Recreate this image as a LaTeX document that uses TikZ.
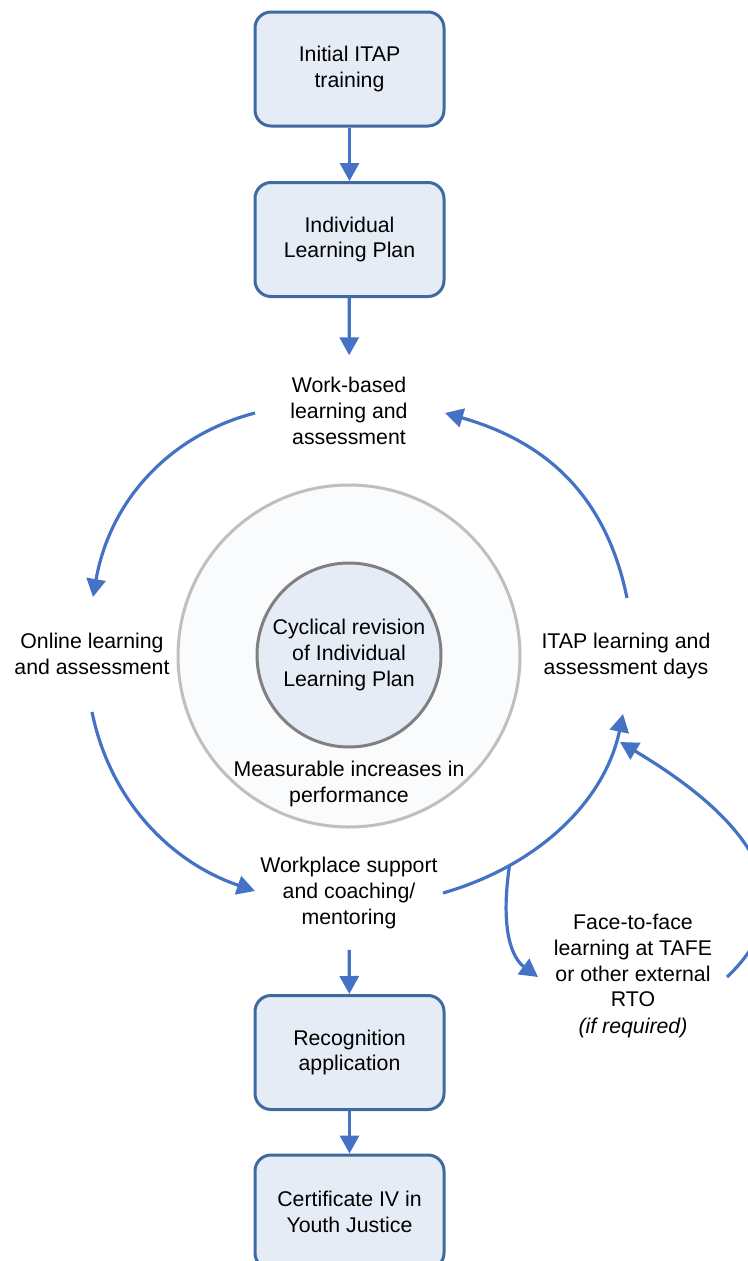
\documentclass[tikz,border=0pt]{standalone}
\usepackage{fontspec}
\setmainfont{Liberation Sans}
\usetikzlibrary{arrows.meta}
\definecolor{boxline}{RGB}{62,106,160}
\definecolor{boxfill}{RGB}{230,236,246}
\definecolor{arrowblue}{RGB}{68,114,196}
\definecolor{outerline}{RGB}{191,191,191}
\definecolor{outerfill}{RGB}{250,251,253}
\definecolor{innerline}{RGB}{128,128,128}
\newcommand\dfs{\fontsize{21.3}{25.7}\selectfont}
\begin{document}
\begin{tikzpicture}[x=1pt,y=-1pt,
  stepbox/.style={draw=boxline, line width=3pt, fill=boxfill, rounded corners=16pt,
    minimum width=189pt, minimum height=114pt, align=center, font=\dfs, inner sep=0pt},
  lbl/.style={align=center, font=\dfs, inner sep=0pt},
  flow/.style={draw=arrowblue, line width=3.2pt, -{Triangle[length=18pt,width=19pt]}}]
\useasboundingbox (0,0) rectangle (747,1261);

% boxes
\node[stepbox] (b1) at (349.5,69) {Initial ITAP\\training};
\node[stepbox] (b2) at (349.5,239.5) {Individual\\Learning Plan};
\node[stepbox] (b3) at (349.5,1052.5) {Recognition\\application};
\node[stepbox] (b4) at (349.5,1212) {Certificate IV in\\Youth Justice};

% circles
\node[circle, draw=outerline, fill=outerfill, line width=3pt, minimum size=342pt, inner sep=0pt] (outer) at (349,656) {};
\node[circle, draw=innerline, fill=boxfill, line width=3pt, minimum size=184pt, inner sep=0pt,
  align=center, font=\dfs] (inner) at (349,655) {Cyclical revision\\of Individual\\Learning Plan};
\node[lbl] (meas) at (349,784) {Measurable increases in\\performance};

% cycle labels
\node[lbl, inner ysep=22pt] (wb) at (349,411) {Work-based\\learning and\\assessment};
\node[lbl] (ol) at (92,654) {Online learning\\and assessment};
\node[lbl] (it) at (626,656) {ITAP learning and\\assessment days};
\node[lbl, inner ysep=21pt] (wp) at (349,893) {Workplace support\\and coaching/\\mentoring};
\node[lbl] (ff) at (633,976) {Face-to-face\\learning at TAFE\\or other external\\RTO\\[1pt]\textit{(if required)}};

% straight connectors
\draw[flow] (b1) -- (b2);
\draw[flow] (b2) -- (wb);
\draw[flow] (wp) -- (b3);
\draw[flow] (b3) -- (b4);

% curve end points
\coordinate (wbL) at (255,413);
\coordinate (olT) at (93,597);
\coordinate (olB) at (92,712);
\coordinate (wpL) at (255,891);
\coordinate (wpR) at (443,893);
\coordinate (itB) at (623,714);
\coordinate (itT) at (627,598);
\coordinate (wbR) at (445,413);
\coordinate (ffL) at (538,977);
\coordinate (ffR) at (727,977);
\coordinate (itB2) at (620,742);

% cycle connectors
\draw[flow] (wbL) .. controls (170,435) and (110,500) .. (olT);
\draw[flow] (olB) .. controls (110,800) and (170,862) .. (wpL);
\draw[flow] (wpR) .. controls (540,865) and (605,800) .. (itB) coordinate[pos=0.25] (br);
\draw[flow] (itT) .. controls (605,490) and (540,440) .. (wbR);
\draw[flow] (br) .. controls (500,930) and (512,958) .. (ffL);
\draw[flow] (ffR) .. controls (830,880) and (700,790) .. (itB2);
\end{tikzpicture}
\end{document}
